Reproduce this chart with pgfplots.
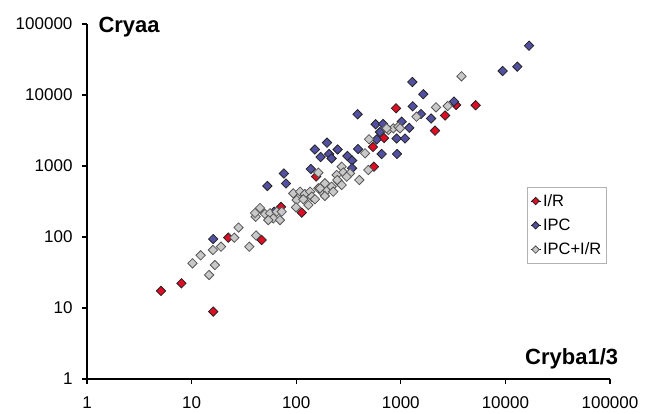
\documentclass[border=0pt]{standalone}
\usepackage{fontspec}
\setmainfont{Liberation Sans}
\usepackage{pgfplots}
\pgfplotsset{compat=1.18}

\definecolor{irred}{RGB}{222,12,36}
\definecolor{ipcblue}{RGB}{82,80,160}
\definecolor{mixgray}{RGB}{200,200,200}
\definecolor{edgedark}{RGB}{35,35,35}
\definecolor{edgegray}{RGB}{85,85,85}

\begin{document}
\begin{tikzpicture}
\path[use as bounding box] (-87pt,-34pt) rectangle (563pt,379pt);
\begin{axis}[
  at={(0,0)}, anchor=south west,
  scale only axis, width=523pt, height=355pt,
  xmode=log, ymode=log,
  xmin=1, xmax=100000, ymin=1, ymax=100000,
  axis lines=left, axis line style={-, line width=1.1pt, black},
  tick align=outside, major tick length=5pt,
  tick style={line width=1.1pt, black},
  xminorticks=false, yminorticks=false,
  xtick={1,10,100,1000,10000,100000},
  xticklabels={1,10,100,1000,10000,100000},
  ytick={1,10,100,1000,10000,100000},
  yticklabels={1,10,100,1000,10000,100000},
  ticklabel style={font=\fontsize{17}{19}\selectfont},
  xticklabel style={yshift=-9pt},
  yticklabel style={xshift=-6pt},
  xlabel={\textbf{Cryba1/3}},
  xlabel style={font=\fontsize{22}{24}\selectfont, at={(axis description cs:1.0224,0.042)}, anchor=base east},
  ylabel={\textbf{Cryaa}},
  ylabel style={rotate=-90, font=\fontsize{22}{24}\selectfont, at={(axis description cs:0.0153,0.977)}, anchor=base west},
  legend style={at={(axis description cs:0.841,0.541)}, anchor=north west,
    draw=black!30, line width=0.8pt, font=\fontsize{16.5}{19}\selectfont,
    row sep=7pt, inner xsep=3pt, inner ysep=5pt},
  legend cell align=left,
  legend image code/.code={\path (0pt,0pt) -- (10pt,0pt);
    \draw[#1, mark size=2.6pt, line width=0.6pt] plot coordinates {(5pt,0pt)};},
  clip=false,
]
\addplot[only marks, mark=square*, mark size=3.3pt, mark options={rotate=45, fill=irred, draw=edgedark, line width=0.8pt}] table {
x y
5.1 17.4
8.0 22.3
16.1 8.9
22.4 97.8
46.8 90.8
71.6 265
113 221
155 711
554 977
542 1853
691 2478
900 6500
2123 3142
2647 5143
3373 7230
5200 7180
};
\addlegendentry{I/R}
\addplot[only marks, mark=square*, mark size=3.3pt, mark options={rotate=45, fill=ipcblue, draw=edgedark, line width=0.8pt}] table {
x y
16.1 93.7
53 523
76.4 784
79.9 567
61.4 227
138 907
151 1708
171 1339
197 2129
206 1476
218 1276
249 1708
309 1384
342 1195
390 1735
386 5350
342 929
657 1476
920 1476
575 3866
676 3906
632 3013
588 2361
914 2439
1097 2439
1020 4208
1206 3451
1288 15240
1641 10260
1300 6935
1560 5400
1945 4667
3227 8096
9420 21780
13000 25050
16820 49450
};
\addlegendentry{IPC}
\addplot[only marks, mark=square*, mark size=3.3pt, mark options={rotate=45, fill=mixgray, draw=edgegray, line width=0.8pt}] table {
x y
10.2 42.6
12.2 55.2
14.7 29.2
16.7 40.3
16.0 65.6
19.1 73.0
25.6 97.8
28.1 136
35.6 73.0
41.3 105
45.1 256
41.0 193
50.3 211
40.4 218
56.2 216
65.1 227
60.4 183
70.0 173
54.1 173
72.7 227
93.8 412
109 435
121 403
136 435
141 370
101 332
117 340
131 282
151 340
163 485
182 511
182 412
198 459
99.6 262
188 571
218 511
253 601
169 485
226 435
163 805
272 977
282 810
244 747
327 789
304 707
247 635
272 540
401 635
489 879
455 1510
497 2377
760 3214
848 3396
946 3578
733 3396
982 3396
1413 4947
2172 6709
2808 7000
3803 18340
188 378
};
\addlegendentry{IPC+I/R}
\end{axis}
\end{tikzpicture}
\end{document}
